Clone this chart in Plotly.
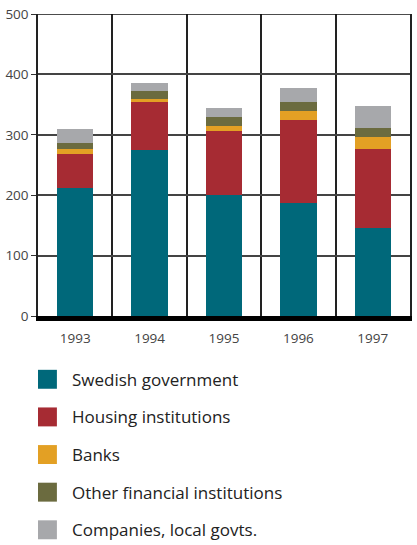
import plotly.graph_objects as go

years = ["1993", "1994", "1995", "1996", "1997"]
series_names = ["Swedish government", "Housing institutions", "Banks",
                "Other financial institutions", "Companies, local govts."]
swedish_government = [212, 275, 200, 187, 146]
housing_institutions = [57, 79, 106, 138, 130]
banks = [7, 4.5, 8, 15, 20]
other_financial = [11, 13.5, 16, 15, 15]
companies_local = [22, 13, 15, 22, 36]
colors = ["#00687A", "#A62B33", "#E3A024", "#6B6B3F", "#A7A8AB"]
y_ticks = [0, 100, 200, 300, 400, 500]

values = [swedish_government, housing_institutions, banks, other_financial, companies_local]

fig = go.Figure()
for name, vals, col in zip(series_names, values, colors):
    fig.add_trace(go.Bar(x=years, y=vals, name=name, marker=dict(color=col, line=dict(width=0)),
                         width=0.49, showlegend=False))

W, H = 417, 545
ml, mr, mt, mb = 38, 5, 13, 229
pw = W - ml - mr
ph = H - mt - mb

def px_x(x):
    return (x - ml) / pw

def px_y(y):
    return (H - mb - y) / ph

shapes = []
annotations = []
row_top = 370
for i, (name, col) in enumerate(zip(series_names, colors)):
    top = row_top + i * 37.75
    shapes.append(dict(type="rect", xref="paper", yref="paper",
                       x0=px_x(38), x1=px_x(57), y0=px_y(top + 19), y1=px_y(top),
                       fillcolor=col, line=dict(width=0)))
    annotations.append(dict(xref="paper", yref="paper", x=px_x(70), y=px_y(top + 9.5),
                            text=name, showarrow=False, xanchor="left", yanchor="middle",
                            font=dict(family="Open Sans", size=17, color="#222")))

shapes.append(dict(type="line", xref="paper", yref="y", x0=0, x1=1, y0=500, y1=500,
                   line=dict(color="#111", width=1.5)))

fig.update_layout(
    barmode="stack",
    width=W, height=H,
    margin=dict(l=ml, r=mr, t=mt, b=mb, pad=0),
    paper_bgcolor="white", plot_bgcolor="white",
    shapes=shapes, annotations=annotations,
    xaxis=dict(type="category", tickson="boundaries", showgrid=True, gridcolor="#222",
               gridwidth=1.5, showline=True, linecolor="black", linewidth=5,
               ticks="", ticklabelstandoff=6,
               tickfont=dict(family="Open Sans", size=13.5, color="#444"),
               range=[-0.5, 4.5]),
    yaxis=dict(range=[0, 500], tickvals=y_ticks, showgrid=True, gridcolor="#444", gridwidth=1.5,
               showline=True, mirror=True, linecolor="#222", linewidth=1.5,
               ticks="outside", ticklen=5, tickcolor="#333", tickwidth=1,
               tickfont=dict(family="Open Sans", size=13.5, color="#444"), zeroline=False),
    bargap=0,
)

fig.write_html("out.html")
